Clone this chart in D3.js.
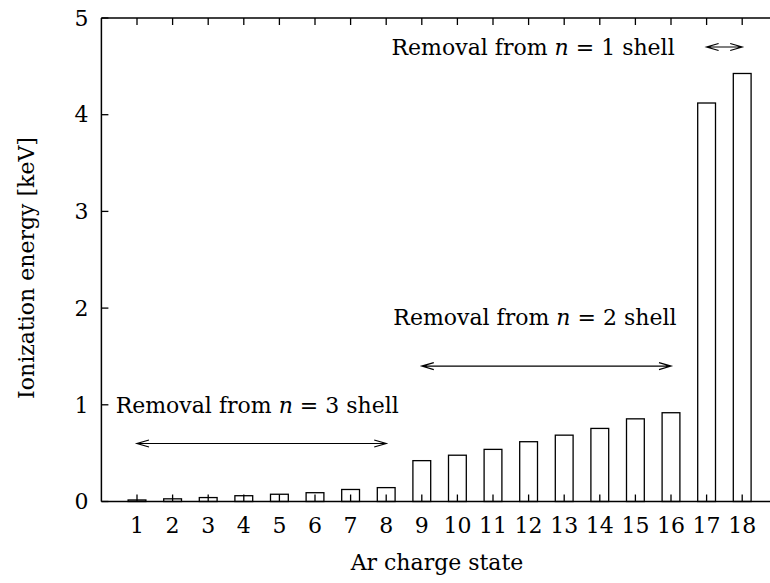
<!DOCTYPE html>
<html>
<head>
<meta charset="utf-8">
<script src="https://cdn.jsdelivr.net/npm/d3@7"></script>
<style>
  body { margin: 0; background: #fff; }
</style>
</head>
<body>
<div id="grafo"></div>
<script>
// Ar ionization energies per charge state, keV
var chargeStates = [1, 2, 3, 4, 5, 6, 7, 8, 9, 10, 11, 12, 13, 14, 15, 16, 17, 18];
var energies = [0.0158, 0.0276, 0.0407, 0.0598, 0.0750, 0.0910, 0.1243, 0.1435,
                0.4225, 0.4787, 0.5390, 0.6183, 0.6861, 0.7557, 0.8548, 0.9180, 4.1209, 4.4262];
var yTicks = [0, 1, 2, 3, 4, 5];

// shell annotations
var shellN = [3, 2, 1];
var labelX = [0.4, 8.2, 8.15];
var labelY = [1.0, 1.9, 4.7];
var arrowFrom = [1, 9, 17];
var arrowTo = [8, 16, 18];
var arrowY = [0.6, 1.4, 4.7];

var width = 770, height = 583;
var fontSize = 22;
var serif = "'DejaVu Serif', 'Liberation Serif', 'Times New Roman', serif";

var svg = d3.select("#grafo").append("svg")
    .attr("width", width)
    .attr("height", height)
    .attr("font-family", serif)
    .style("font-family", serif);

var x = d3.scaleLinear().domain([0, 19]).range([101.4, 777.8]);
var y = d3.scaleLinear().domain([0, 5]).range([501.5, 18]);
var barW = x(0.5) - x(0);

// bars
svg.selectAll(".bar")
    .data(chargeStates)
  .enter().append("rect")
    .attr("class", "bar")
    .attr("x", function(d) { return x(d) - barW / 2; })
    .attr("y", function(d, i) { return y(energies[i]); })
    .attr("width", barW)
    .attr("height", function(d, i) { return y(0) - y(energies[i]); })
    .attr("fill", "none")
    .attr("stroke", "#000")
    .attr("stroke-width", 1.3);

// frame
var frame = svg.append("g").attr("stroke", "#000").attr("stroke-width", 1.5).attr("fill", "none");
frame.append("line").attr("x1", x(0)).attr("x2", x(19)).attr("y1", y(0)).attr("y2", y(0));
frame.append("line").attr("x1", x(0)).attr("x2", x(19)).attr("y1", y(5)).attr("y2", y(5));
frame.append("line").attr("x1", x(0)).attr("x2", x(0)).attr("y1", y(0)).attr("y2", y(5));

// inward ticks
var tickLen = 7;
var ticks = svg.append("g").attr("stroke", "#000").attr("stroke-width", 1.3);
ticks.selectAll(".xb").data(chargeStates).enter().append("line")
    .attr("x1", function(d) { return x(d); }).attr("x2", function(d) { return x(d); })
    .attr("y1", y(0)).attr("y2", y(0) - tickLen);
ticks.selectAll(".xt").data(chargeStates).enter().append("line")
    .attr("x1", function(d) { return x(d); }).attr("x2", function(d) { return x(d); })
    .attr("y1", y(5)).attr("y2", y(5) + tickLen);
ticks.selectAll(".yl").data(yTicks).enter().append("line")
    .attr("x1", x(0)).attr("x2", x(0) + tickLen)
    .attr("y1", function(d) { return y(d); }).attr("y2", function(d) { return y(d); });

// tick labels
svg.selectAll(".xlab").data(chargeStates).enter().append("text")
    .attr("x", function(d) { return x(d); })
    .attr("y", 533)
    .attr("text-anchor", "middle")
    .style("font-size", fontSize + "px")
    .text(function(d) { return d; });

svg.selectAll(".ylab").data(yTicks).enter().append("text")
    .attr("x", x(0) - 13)
    .attr("y", function(d) { return y(d); })
    .attr("dy", "0.35em")
    .attr("text-anchor", "end")
    .style("font-size", fontSize + "px")
    .text(function(d) { return d; });

// axis titles
svg.append("text")
    .attr("x", 437)
    .attr("y", 570)
    .attr("text-anchor", "middle")
    .style("font-size", fontSize + "px")
    .text("Ar charge state");

svg.append("text")
    .attr("transform", "translate(34,268) rotate(-90)")
    .attr("text-anchor", "middle")
    .style("font-size", fontSize + "px")
    .text("Ionization energy [keV]");

// annotations
shellN.forEach(function(n, i) {
  var t = svg.append("text")
      .attr("x", x(labelX[i]))
      .attr("y", y(labelY[i]))
      .attr("dy", "0.35em")
      .style("font-size", fontSize + "px");
  t.append("tspan").text("Removal from ");
  t.append("tspan").style("font-style", "italic").text("n");
  t.append("tspan").text(" = " + n + " shell");

  var x1 = x(arrowFrom[i]), x2 = x(arrowTo[i]), ya = y(arrowY[i]);
  var hl = 12, hw = 3.5;
  svg.append("path")
      .attr("d", "M" + x1 + "," + ya + "L" + x2 + "," + ya +
                 "M" + (x1 + hl) + "," + (ya - hw) + "L" + x1 + "," + ya + "L" + (x1 + hl) + "," + (ya + hw) +
                 "M" + (x2 - hl) + "," + (ya - hw) + "L" + x2 + "," + ya + "L" + (x2 - hl) + "," + (ya + hw))
      .attr("fill", "none")
      .attr("stroke", "#000")
      .attr("stroke-width", 1.2);
});
</script>
</body>
</html>
